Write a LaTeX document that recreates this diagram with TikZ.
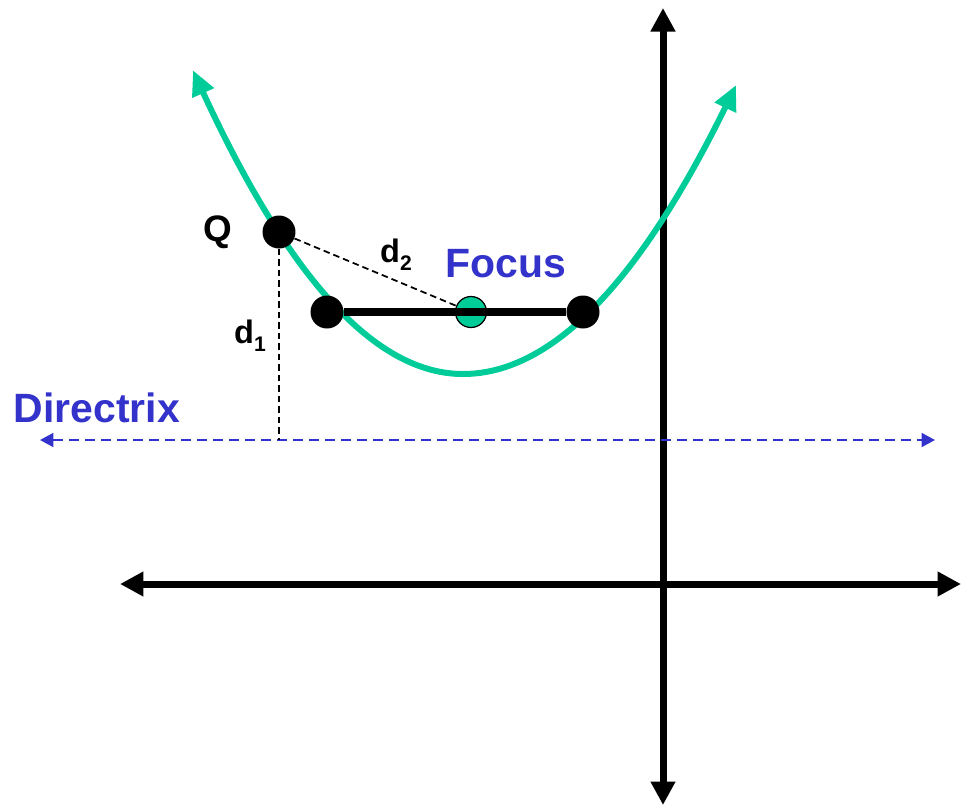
\documentclass[tikz,border=0pt]{standalone}
\usepackage{fontspec}
\setmainfont{Liberation Sans}
\usepackage{tikz}
\usetikzlibrary{arrows.meta}
\definecolor{curveGreen}{HTML}{00CC99}
\definecolor{labelBlue}{HTML}{3333CC}
\newcommand{\dsub}[1]{d\raisebox{-5pt}{\fontsize{12}{14}\selectfont #1}}

\begin{document}
\begin{tikzpicture}[x=0.02cm, y=-0.02cm,
    axis/.style={line width=0.14cm, {Triangle[length=0.47cm, width=0.47cm]}-{Triangle[length=0.47cm, width=0.47cm]}},
    curve/.style={line width=0.12cm, curveGreen, {Triangle[length=0.5cm, width=0.45cm]}-{Triangle[length=0.5cm, width=0.45cm]}},
    dirline/.style={line width=0.045cm, labelBlue, dash pattern=on 0.2cm off 0.12cm, {Triangle[length=0.27cm, width=0.28cm]}-{Triangle[length=0.27cm, width=0.28cm]}},
    distline/.style={line width=0.035cm, dash pattern=on 0.13cm off 0.08cm},
    dot/.style={circle, fill=black, inner sep=0pt, minimum size=0.66cm},
    focusdot/.style={circle, draw=black, line width=0.025cm, fill=curveGreen, inner sep=0pt, minimum size=0.62cm},
    bigLabel/.style={font=\fontsize{23.3}{28}\selectfont\bfseries, text=labelBlue, anchor=base},
    smallLabel/.style={font=\fontsize{18.5}{22}\selectfont\bfseries, anchor=base}
  ]
    \useasboundingbox (0,0) rectangle (961,806);
    % axes
    \coordinate (yTop) at (663,8);
    \coordinate (yBot) at (663,805);
    \coordinate (xLeft) at (120,584);
    \coordinate (xRight) at (961,584);
    \draw[axis] (xLeft) -- (xRight);
    \draw[axis] (yBot) -- (yTop);
    % directrix
    \coordinate (dirL) at (40,440);
    \coordinate (dirR) at (935,440);
    \coordinate (foot) at (279,440);
    \draw[dirline] (dirL) -- (dirR);
    % parabola
    \draw[curve] plot[domain=193:736, samples=140, smooth]
      (\x, {374 - 100*((\x-463)/100)^2/((\x<463) ? 2.40 : 2.58)});
    % points
    \node[dot] (Q) at (279,232) {};
    \node[dot] (latL) at (327,312) {};
    \node[dot] (latR) at (583,312) {};
    \draw[distline] (Q) -- (foot);
    \draw[distline] (Q) -- (471,312);
    \node[focusdot] (F) at (471,312) {};
    \draw[line width=0.15cm] (latL) -- (latR);
    % labels
    \node[smallLabel, font=\fontsize{21}{25}\selectfont\bfseries] (qLab) at (218,241) {Q};
    \node[smallLabel] (d1Lab) at (250,343) {\dsub{1}};
    \node[smallLabel] (d2Lab) at (396,262) {\dsub{2}};
    \node[bigLabel] (fLab) at (506,277) {Focus};
    \node[bigLabel] (dLab) at (97,422) {Directrix};
  \end{tikzpicture}
\end{document}
